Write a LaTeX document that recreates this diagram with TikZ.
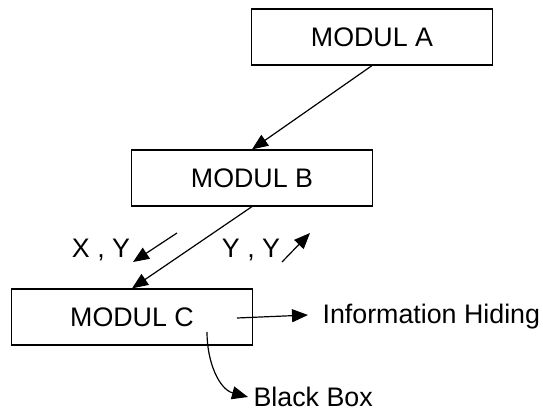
\documentclass[tikz,border=0pt]{standalone}
\usepackage{fontspec}
\setmainfont{Liberation Sans}
\usepackage{tikz}
\usetikzlibrary{arrows.meta}

\begin{document}
\begin{tikzpicture}[x=0.5pt,y=-0.5pt,line width=0.6pt,
    modul/.style={rectangle, draw, minimum width=120.5pt, minimum height=28pt, font=\fontsize{13.4}{16}\selectfont},
    lbl/.style={font=\fontsize{13.4}{16}\selectfont, inner sep=0pt},
    pfeil/.style={-{Triangle[length=8pt,width=6.5pt]}}]
                        \useasboundingbox (0,0) rectangle (543,412);
                        % Nodes
                        \node[modul] (A) at (372,37) {MODUL A};
                        \node[modul] (B) at (252,178) {MODUL B};
                        \node[modul] (C) at (132,317) {MODUL C};
                        \node[lbl] (xy) at (101,250) {X , Y};
                        \node[lbl] (yy) at (251,250) {Y , Y};
                        \node[lbl, anchor=west] (info) at (322,317) {Information Hiding};
                        \node[lbl, anchor=west] (bb) at (253,397) {Black Box};
                        \coordinate (xys) at (177,233);
                        \coordinate (xye) at (133,262);
                        \coordinate (yys) at (282,262);
                        \coordinate (yye) at (310,233);
                        \coordinate (ih) at (237,318);
                        \coordinate (bk) at (207,332);

                        % Edges
                        \draw[pfeil] (A.south) -- (B.north);
                        \draw[pfeil] (B.south) -- (C.north);
                        \draw[pfeil] (xys) -- (xye);
                        \draw[pfeil] (yys) -- (yye);
                        \draw[pfeil] (ih) -- ([xshift=-7pt,yshift=1pt]info.west);
                        \draw[pfeil] (bk) to[out=-90,in=165] ([xshift=-2.5pt]bb.west);
                    \end{tikzpicture}
\end{document}
